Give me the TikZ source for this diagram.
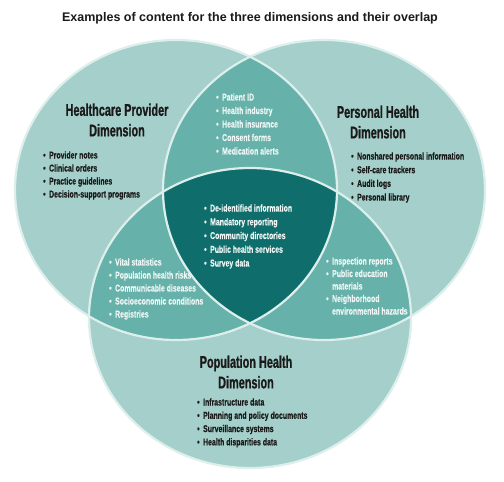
\documentclass[tikz,border=0pt]{standalone}
\usepackage{fontspec}
\setmainfont{Liberation Sans}
\newfontfamily\condfont[FakeStretch=0.70,FakeBold=0.3]{Liberation Sans}
\newfontfamily\headfont[FakeStretch=0.64,FakeBold=0.9]{Liberation Sans}
\definecolor{lightteal}{HTML}{A5CFCA}
\definecolor{midteal}{HTML}{66B1A9}
\definecolor{darkteal}{HTML}{0F6D6B}
\definecolor{rimcol}{HTML}{DCEFEC}
\definecolor{txtdark}{HTML}{1A1A1A}
\definecolor{txtlight}{HTML}{EEF7F5}
\begin{document}
\begin{tikzpicture}[x=1pt,y=-1pt,
  ell/.style={x radius=161pt, y radius=150pt},
  rim/.style={draw=rimcol, line width=2.2pt},
  lst/.style={anchor=base west, inner sep=0pt, font=\condfont\bfseries\fontsize{9.9}{#1}\selectfont},
  dimtitle/.style={align=center, inner sep=0pt, text=txtdark, font=\headfont\bfseries\fontsize{17}{20.5}\selectfont}
]
\useasboundingbox (0,0) rectangle (504,482);
\fill[white] (0,0) rectangle (504,482);
\coordinate (cL) at (176,190);
\coordinate (cR) at (324,190);
\coordinate (cB) at (250,318);
% base fills
\fill[lightteal] (cL) ellipse [ell];
\fill[lightteal] (cR) ellipse [ell];
\fill[lightteal] (cB) ellipse [ell];
% pairwise overlaps
\begin{scope}
  \clip (cL) ellipse [ell];
  \fill[midteal] (cR) ellipse [ell];
  \fill[midteal] (cB) ellipse [ell];
\end{scope}
\begin{scope}
  \clip (cR) ellipse [ell];
  \fill[midteal] (cB) ellipse [ell];
\end{scope}
% triple overlap
\begin{scope}
  \clip (cL) ellipse [ell];
  \clip (cR) ellipse [ell];
  \fill[darkteal] (cB) ellipse [ell];
\end{scope}
% outlines
\draw[rim] (cL) ellipse [ell];
\draw[rim] (cR) ellipse [ell];
\draw[rim] (cB) ellipse [ell];

% heading
\node[inner sep=0pt, text=txtdark, font=\bfseries\fontsize{12.5}{14}\selectfont] (heading) at (250,18)
  {Examples of content for the three dimensions and their overlap};

% dimension titles
\node[dimtitle] (tHP) at (117,120) {Healthcare Provider\\Dimension};
\node[dimtitle] (tPH) at (378,122) {Personal Health\\Dimension};
\node[dimtitle] (tPop) at (246,372) {Population Health\\Dimension};

% lists
\node[lst=13, text=txtdark] (lHP) at (43,158.5) {\begin{tabular}[t]{@{}l@{\hspace{3.5pt}}l@{}}
\textbullet & Provider notes\\
\textbullet & Clinical orders\\
\textbullet & Practice guidelines\\
\textbullet & Decision-support programs
\end{tabular}};

\node[lst=13.5, text=txtlight] (lTop) at (216,100.5) {\begin{tabular}[t]{@{}l@{\hspace{3.5pt}}l@{}}
\textbullet & Patient ID\\
\textbullet & Health industry\\
\textbullet & Health insurance\\
\textbullet & Consent forms\\
\textbullet & Medication alerts
\end{tabular}};

\node[lst=13.7, text=txtdark] (lPH) at (351,159.5) {\begin{tabular}[t]{@{}l@{\hspace{3.5pt}}l@{}}
\textbullet & Nonshared personal information\\
\textbullet & Self-care trackers\\
\textbullet & Audit logs\\
\textbullet & Personal library
\end{tabular}};

\node[lst=13.75, text=txtlight] (lCen) at (204,211.5) {\begin{tabular}[t]{@{}l@{\hspace{3.5pt}}l@{}}
\textbullet & De-identified information\\
\textbullet & Mandatory reporting\\
\textbullet & Community directories\\
\textbullet & Public health services\\
\textbullet & Survey data
\end{tabular}};

\node[lst=13, text=txtlight] (lLB) at (109,265.5) {\begin{tabular}[t]{@{}l@{\hspace{3.5pt}}l@{}}
\textbullet & Vital statistics\\
\textbullet & Population health risks\\
\textbullet & Communicable diseases\\
\textbullet & Socioeconomic conditions\\
\textbullet & Registries
\end{tabular}};

\node[lst=12.5, text=txtlight] (lRB) at (326,264.5) {\begin{tabular}[t]{@{}l@{\hspace{3.5pt}}l@{}}
\textbullet & Inspection reports\\
\textbullet & Public education\\
 & materials\\
\textbullet & Neighborhood\\
 & environmental hazards
\end{tabular}};

\node[lst=13.3, text=txtdark] (lPop) at (197,405.5) {\begin{tabular}[t]{@{}l@{\hspace{3.5pt}}l@{}}
\textbullet & Infrastructure data\\
\textbullet & Planning and policy documents\\
\textbullet & Surveillance systems\\
\textbullet & Health disparities data
\end{tabular}};
\end{tikzpicture}
\end{document}
